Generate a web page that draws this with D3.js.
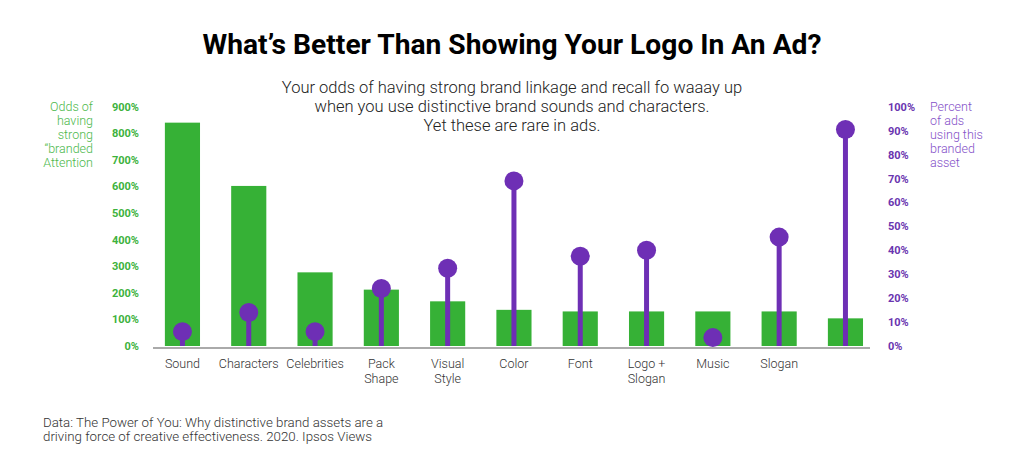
<!DOCTYPE html>
<html><head><meta charset="utf-8">
<script src="https://cdn.jsdelivr.net/npm/d3@7/dist/d3.min.js"></script>
<style>body{margin:0;background:#fff;font-family:Roboto,sans-serif}</style>
</head><body><svg id="c" width="1024" height="469"></svg>
<script>
const categories = [["Sound"],["Characters"],["Celebrities"],["Pack","Shape"],["Visual","Style"],["Color"],["Font"],["Logo +","Slogan"],["Music"],["Slogan"],[""]];
const oddsValues = [840, 602, 277, 212, 168, 136, 130, 130, 130, 130, 104];
const adsPercent = [6, 14, 6, 24, 32.5, 69, 37.5, 40, 3.5, 45.5, 90.5];
const leftTicks = [0,100,200,300,400,500,600,700,800,900];
const rightTicks = [0,10,20,30,40,50,60,70,80,90,100];
const leftTitle = ["Odds of","having","strong","“branded","Attention"];
const rightTitle = ["Percent","of ads","using this","branded","asset"];
const subtitle = ["Your odds of having strong brand linkage and recall fo waaay up","when you use distinctive brand sounds and characters.","Yet these are rare in ads."];
const footnote = ["Data: The Power of You: Why distinctive brand assets are a","driving force of creative effectiveness. 2020. Ipsos Views"];

const svg = d3.select("#c");
const green = "#36b136", purple = "#6e2fb5";
const x = d3.scaleBand().domain(d3.range(categories.length)).range([149.3, 878.6]).paddingInner(0.47).paddingOuter(0.235);
const yL = d3.scaleLinear().domain([0,900]).range([346,106.7]);
const yR = d3.scaleLinear().domain([0,100]).range([346,106.7]);

svg.append("text").attr("x",512).attr("y",54).attr("text-anchor","middle")
  .attr("font-size",27).attr("font-weight",700).attr("fill","#000")
  .attr("textLength",619).attr("lengthAdjust","spacingAndGlyphs")
  .text("What’s Better Than Showing Your Logo In An Ad?");
svg.append("g").selectAll("text").data(subtitle).join("text")
  .attr("x",512).attr("y",(d,i)=>93+i*19).attr("text-anchor","middle")
  .attr("font-size",16.5).attr("font-weight",300).attr("fill","#222").text(d=>d);

// left axis
const gl = svg.append("g").attr("transform","translate(139,0)")
  .call(d3.axisLeft(yL).tickValues(leftTicks).tickFormat(d=>d+"%").tickSize(0).tickPadding(0));
gl.select(".domain").remove();
gl.selectAll("text").attr("font-family","Roboto").attr("font-size",11).attr("font-weight",700).attr("fill","#3db23d");
const gr = svg.append("g").attr("transform","translate(888,0)")
  .call(d3.axisRight(yR).tickValues(rightTicks).tickFormat(d=>d+"%").tickSize(0).tickPadding(0));
gr.select(".domain").remove();
gr.selectAll("text").attr("font-family","Roboto").attr("font-size",11).attr("font-weight",700).attr("fill","#6a35b0");

svg.append("g").selectAll("text").data(leftTitle).join("text")
  .attr("x",93).attr("y",(d,i)=>111+i*14).attr("text-anchor","end")
  .attr("font-size",12.5).attr("font-weight",300).attr("fill","#4cb84c").text(d=>d);
svg.append("g").selectAll("text").data(rightTitle).join("text")
  .attr("x",930).attr("y",(d,i)=>111+i*14)
  .attr("font-size",12.5).attr("font-weight",300).attr("fill","#8450c8").text(d=>d);

// bars
svg.append("g").selectAll("rect").data(oddsValues).join("rect")
  .attr("x",(d,i)=>x(i)).attr("width",x.bandwidth())
  .attr("y",d=>yL(d)).attr("height",d=>yL(0)-yL(d)).attr("fill",green);

// baseline
svg.append("line").attr("x1",153).attr("x2",870).attr("y1",348).attr("y2",348)
  .attr("stroke","#aaa").attr("stroke-width",2);

// lollipops
const lp = svg.append("g");
lp.selectAll("line").data(adsPercent).join("line")
  .attr("x1",(d,i)=>x(i)+x.bandwidth()/2).attr("x2",(d,i)=>x(i)+x.bandwidth()/2)
  .attr("y1",yR(0)).attr("y2",d=>yR(d)).attr("stroke",purple).attr("stroke-width",5);
lp.selectAll("circle").data(adsPercent).join("circle")
  .attr("cx",(d,i)=>x(i)+x.bandwidth()/2).attr("cy",d=>yR(d)).attr("r",9.5).attr("fill",purple);

// x labels
const xl = svg.append("g");
categories.forEach((lines,i)=>{
  lines.forEach((t,j)=>{
    xl.append("text").attr("x",x(i)+x.bandwidth()/2).attr("y",368+j*14.5)
      .attr("text-anchor","middle").attr("font-size",12.5).attr("font-weight",300).attr("fill","#333").text(t);
  });
});

svg.append("g").selectAll("text").data(footnote).join("text")
  .attr("x",43).attr("y",(d,i)=>426.5+i*14)
  .attr("font-size",13.3).attr("font-weight",300).attr("fill","#333").text(d=>d);
</script></body></html>
